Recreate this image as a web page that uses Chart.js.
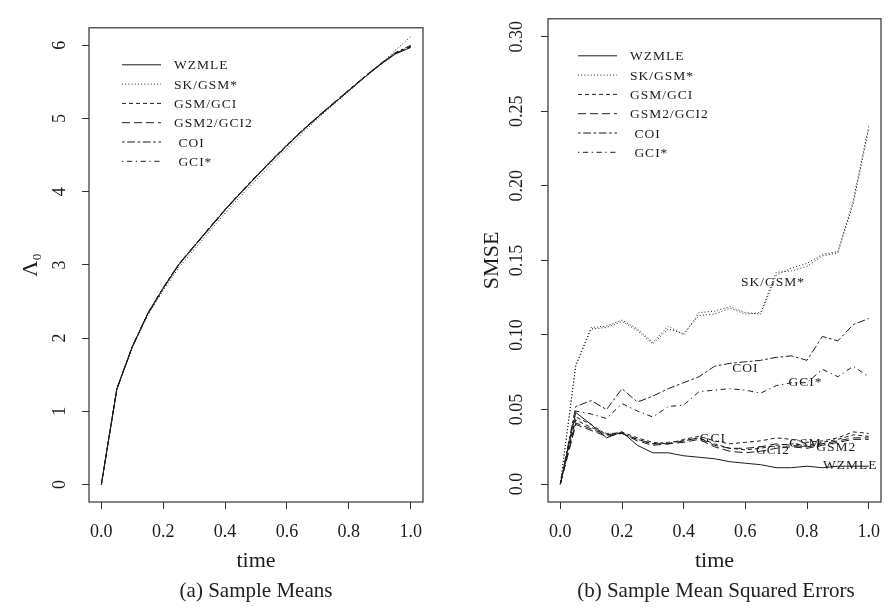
<!DOCTYPE html>
<html><head><meta charset="utf-8">
<script src="https://cdn.jsdelivr.net/npm/chart.js@4/dist/chart.umd.min.js"></script>
<style>
html,body{margin:0;padding:0;background:#fff;}
#wrap{position:relative;width:893px;height:608px;overflow:hidden;background:#fff;}
canvas{position:absolute;top:0;}
#c1{left:0;width:446px;height:608px;}
#c2{left:446px;width:447px;height:608px;}
.cap{position:absolute;font-family:'Liberation Serif',serif;font-size:21px;color:#222;white-space:nowrap;transform:translateX(-50%);}
</style></head><body>
<div id="wrap">
<canvas id="c1" width="446" height="608"></canvas>
<canvas id="c2" width="447" height="608"></canvas>
<div class="cap" style="left:256px;top:578px">(a) Sample Means</div>
<div class="cap" style="left:716px;top:578px">(b) Sample Mean Squared Errors</div>
</div>
<script>
// ---------- data ----------
const timeGrid = [0,0.05,0.1,0.15,0.2,0.25,0.3,0.35,0.4,0.45,0.5,0.55,0.6,0.65,0.7,0.75,0.8,0.85,0.9,0.95,1.0];
const xTickValues = [0,0.2,0.4,0.6,0.8,1.0];
const xTickLabels = ['0.0','0.2','0.4','0.6','0.8','1.0'];
const meanTickValues = [0,1,2,3,4,5,6];
const meanTickLabels = ['0','1','2','3','4','5','6'];
const smseTickValues = [0,0.05,0.10,0.15,0.20,0.25,0.30];
const smseTickLabels = ['0.0','0.05','0.10','0.15','0.20','0.25','0.30'];

// (a) sample means
const meanWZMLE = [0,1.30,1.88,2.33,2.68,3.00,3.25,3.50,3.75,3.98,4.20,4.42,4.63,4.83,5.02,5.20,5.38,5.56,5.73,5.88,5.97];
const meanSK    = [0,1.30,1.87,2.31,2.65,2.96,3.21,3.46,3.71,3.94,4.16,4.38,4.59,4.80,5.00,5.19,5.37,5.56,5.74,5.93,6.12];
const meanGSM   = [0,1.31,1.88,2.34,2.69,3.01,3.26,3.51,3.76,3.99,4.21,4.43,4.64,4.84,5.03,5.21,5.39,5.57,5.74,5.89,5.99];
const meanGSM2  = [0,1.30,1.88,2.33,2.68,3.00,3.26,3.51,3.75,3.98,4.21,4.42,4.63,4.84,5.02,5.21,5.38,5.56,5.73,5.89,5.98];
const meanCOI   = [0,1.31,1.89,2.34,2.69,3.01,3.26,3.51,3.76,3.99,4.21,4.43,4.64,4.84,5.03,5.21,5.39,5.57,5.74,5.90,6.00];
const meanGCIs  = [0,1.30,1.88,2.33,2.68,3.00,3.25,3.50,3.75,3.98,4.20,4.42,4.63,4.83,5.02,5.20,5.38,5.56,5.73,5.89,5.98];

// (b) sample mean squared errors
const smseWZMLE = [0,0.048,0.040,0.031,0.035,0.026,0.021,0.021,0.019,0.018,0.017,0.015,0.014,0.013,0.011,0.011,0.012,0.011,0.012,0.012,0.012];
const smseSK    = [0,0.080,0.105,0.106,0.110,0.104,0.095,0.106,0.100,0.115,0.116,0.119,0.115,0.114,0.140,0.145,0.148,0.154,0.156,0.190,0.240];
const smseGSMs  = [0,0.079,0.104,0.105,0.109,0.103,0.094,0.104,0.101,0.113,0.114,0.118,0.114,0.115,0.142,0.143,0.146,0.153,0.155,0.188,0.238];
const smseGSM   = [0,0.045,0.040,0.033,0.035,0.031,0.028,0.027,0.030,0.032,0.029,0.027,0.028,0.029,0.031,0.030,0.028,0.029,0.031,0.035,0.034];
const smseGCI   = [0,0.043,0.038,0.034,0.034,0.030,0.027,0.028,0.029,0.031,0.027,0.024,0.023,0.024,0.026,0.027,0.026,0.028,0.030,0.033,0.032];
const smseGSM2  = [0,0.041,0.037,0.033,0.034,0.030,0.027,0.027,0.029,0.031,0.026,0.024,0.024,0.025,0.027,0.026,0.025,0.027,0.029,0.031,0.031];
const smseGCI2  = [0,0.040,0.036,0.032,0.034,0.029,0.026,0.027,0.028,0.030,0.025,0.022,0.021,0.022,0.024,0.025,0.024,0.026,0.028,0.030,0.030];
const smseCOI   = [0,0.052,0.056,0.050,0.064,0.055,0.059,0.064,0.068,0.072,0.079,0.081,0.082,0.083,0.085,0.086,0.083,0.099,0.096,0.107,0.111];
const smseGCIs  = [0,0.049,0.047,0.044,0.054,0.049,0.045,0.052,0.053,0.062,0.063,0.064,0.063,0.061,0.066,0.068,0.068,0.077,0.072,0.079,0.072];

const legendNames = ['WZMLE','SK/GSM*','GSM/GCI','GSM2/GCI2',' COI',' GCI*'];
// curve labels inside panel (b): text, time, value
const curveLabelText = ['SK/GSM*','COI','GCI*','GCI','GCI2','GSM','GSM2','WZMLE'];
const curveLabelTime = [0.690,0.600,0.795,0.495,0.690,0.795,0.895,0.940];
const curveLabelValue= [0.135,0.0775,0.068,0.0305,0.0225,0.0270,0.0245,0.0125];

// ---------- styles ----------
const INK = '#1c1c1c';
const FONT = "'Liberation Serif', serif";
const dashStyles = {
  solid: [], dotted: [1,2.2], dashed: [4,3], longdash: [8,4], twodash: [2.6,2.6,7.8,2.6], dotdash: [1.3,3.6,5.2,3.6]
};
const legendDash = [dashStyles.solid, dashStyles.dotted, dashStyles.dashed, dashStyles.longdash, dashStyles.twodash, dashStyles.dotdash];

function pts(vals){ return timeGrid.map((t,i)=>({x:t,y:vals[i]})); }
function ds(label, vals, dash){
  return {label, data: pts(vals), borderColor: INK, borderWidth: 1, borderDash: dash,
          pointRadius: 0, tension: 0, fill: false};
}

const panelPlugin = {
  id: 'rpanel',
  afterDatasetsDraw(chart, args, o){
    const {ctx, chartArea:a, scales} = chart;
    ctx.save();
    // box
    ctx.strokeStyle = '#333'; ctx.lineWidth = 1.2; ctx.setLineDash([]);
    ctx.strokeRect(a.left, a.top, a.right - a.left, a.bottom - a.top);
    // legend
    const lx0 = a.left + o.legendX;
    ctx.font = "13.5px " + FONT;
    try { ctx.letterSpacing = '1px'; } catch(e){}
    ctx.fillStyle = INK; ctx.textBaseline = 'middle'; ctx.textAlign = 'left';
    legendNames.forEach((name,i)=>{
      const y = a.top + 37 + i*19.3;
      ctx.beginPath(); ctx.setLineDash(legendDash[i]); ctx.lineWidth = 1; ctx.strokeStyle = INK;
      ctx.moveTo(lx0, y); ctx.lineTo(lx0 + 39, y); ctx.stroke();
      ctx.fillText(name, lx0 + 52, y + 1);
    });
    // curve labels
    if (o.curveLabels) {
      ctx.textAlign = 'center';
      curveLabelText.forEach((txt,i)=>{
        const x = scales.x.getPixelForValue(curveLabelTime[i]);
        const y = scales.y.getPixelForValue(curveLabelValue[i]);
        ctx.fillText(txt, x, y);
      });
    }
    ctx.restore();
  }
};

function makeChart(id, datasets, yMin, yMax, yVals, yLabels, yTitle, yWidth, yPad, yTitlePad, padRight, legendX, curveLabels){
  return new Chart(document.getElementById(id), {
    type: 'line',
    data: { datasets },
    plugins: [panelPlugin],
    options: {
      responsive: false, devicePixelRatio: 1, animation: false,
      layout: { padding: { left: 0, right: padRight, top: 7, bottom: 0 } },
      plugins: { legend: {display:false}, tooltip: {enabled:false}, title:{display:false},
                 rpanel: { legendX, curveLabels } },
      scales: {
        x: {
          type: 'linear', min: -0.04, max: 1.04,
          afterBuildTicks: s => { s.ticks = xTickValues.map(v=>({value:v})); },
          afterFit: s => { s.height = 106; },
          ticks: { callback: (v,i) => xTickLabels[i], color: INK, font: {family: FONT, size: 18}, padding: 12, maxRotation: 0, autoSkip: false },
          grid: { drawOnChartArea: false, drawTicks: true, tickLength: 7, tickColor: '#333', tickWidth: 1 },
          border: { display: false },
          title: { display: true, text: 'time', color: INK, font: {family: FONT, size: 22}, padding: {top: 0, bottom: 34} }
        },
        y: {
          type: 'linear', min: yMin, max: yMax,
          afterBuildTicks: s => { s.ticks = yVals.map(v=>({value:v})); },
          afterFit: s => { s.width = yWidth; },
          ticks: { callback: (v,i) => yLabels[i], color: INK, font: {family: FONT, size: 18}, padding: yPad, minRotation: 90, maxRotation: 90, crossAlign: 'center', autoSkip: false },
          grid: { drawOnChartArea: false, drawTicks: true, tickLength: 7, tickColor: '#333', tickWidth: 1 },
          border: { display: false },
          title: { display: true, text: yTitle, color: INK, font: {family: FONT, size: 22}, padding: {top: yTitlePad, bottom: 0} }
        }
      }
    }
  });
}

makeChart('c1', [
  ds('WZMLE', meanWZMLE, dashStyles.solid),
  ds('SK/GSM*', meanSK, dashStyles.dotted),
  ds('GSM/GCI', meanGSM, dashStyles.dashed),
  ds('GSM2/GCI2', meanGSM2, dashStyles.longdash),
  ds('COI', meanCOI, dashStyles.twodash),
  ds('GCI*', meanGCIs, dashStyles.dotdash)
], -0.24, 6.24, meanTickValues, meanTickLabels, 'Λ₀', 89, 17, 18, 23, 33, false);

makeChart('c2', [
  ds('WZMLE', smseWZMLE, dashStyles.solid),
  ds('SK', smseSK, dashStyles.dotted),
  ds('GSM*', smseGSMs, dashStyles.dotted),
  ds('GSM', smseGSM, dashStyles.dashed),
  ds('GCI', smseGCI, dashStyles.dashed),
  ds('GSM2', smseGSM2, dashStyles.longdash),
  ds('GCI2', smseGCI2, dashStyles.longdash),
  ds('COI', smseCOI, dashStyles.twodash),
  ds('GCI*', smseGCIs, dashStyles.dotdash)
], -0.012, 0.312, smseTickValues, smseTickLabels, 'SMSE', 102, 8, 33, 12, 30, true);
</script>
</body></html>
